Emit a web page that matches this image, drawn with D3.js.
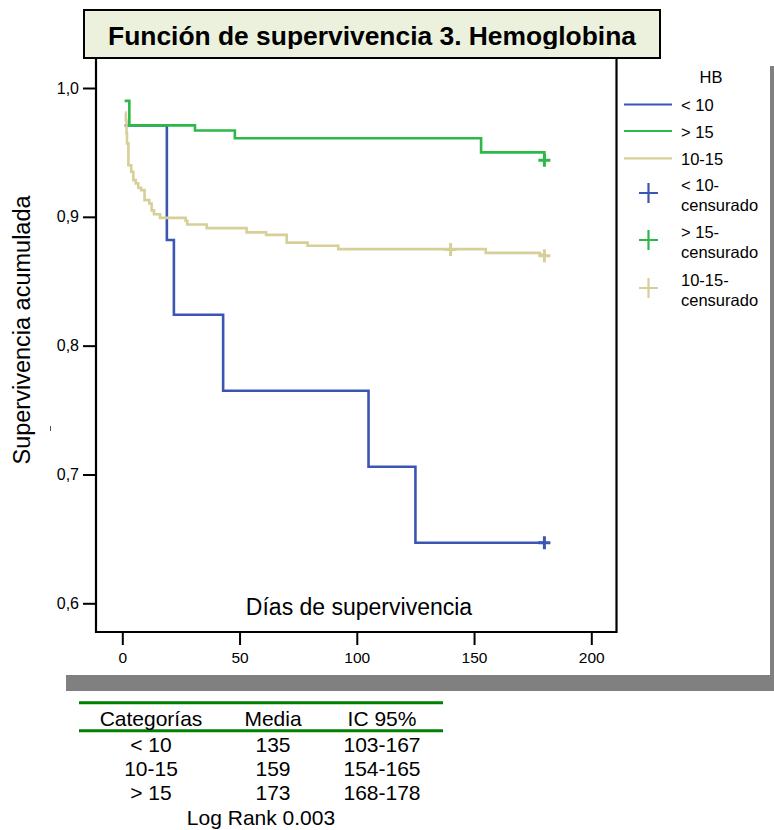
<!DOCTYPE html>
<html>
<head>
<meta charset="utf-8">
<script src="https://cdn.jsdelivr.net/npm/d3@7"></script>
<style>
  html, body { margin: 0; padding: 0; background: #fff; }
  svg { display: block; font-family: "Liberation Sans", Arial, sans-serif; }
</style>
</head>
<body>
<svg id="chart" width="774" height="830"></svg>
<script>
// Kaplan–Meier estimates by haemoglobin group (days, cumulative survival)
const groups = ["< 10", "> 15", "10-15"];
const groupColors = ["#3b55b3", "#2db84a", "#d6cf98"];

const timesLow = [1, 19, 22, 43, 105, 125, 180];
const survLow  = [0.971, 0.882, 0.824, 0.765, 0.706, 0.647, 0.647];

const timesHigh = [1, 3, 31, 48, 153, 180];
const survHigh  = [0.990, 0.971, 0.967, 0.961, 0.950, 0.944];

const timesMid = [1.3, 1.5, 1.8, 2, 2.6, 3.8, 4.7, 5.7, 6.8, 8.0, 9.5, 11.5, 12.5, 13.5, 16.1,
                  27.0, 27.7, 36, 53, 61.3, 70.1, 79, 92.1, 155, 178, 180];
const survMid  = [0.981, 0.975, 0.965, 0.957, 0.940, 0.935, 0.9285, 0.926, 0.9226, 0.9207, 0.913,
                  0.9104, 0.905, 0.902, 0.8992, 0.897, 0.894, 0.8912, 0.8879, 0.886, 0.880, 0.8775,
                  0.8749, 0.872, 0.8708, 0.870];

// censored observations
const censorLowT = [180],      censorLowS = [0.647];
const censorHighT = [180],     censorHighS = [0.944];
const censorMidT = [140, 180], censorMidS = [0.8747, 0.8697];

const xTicks = [0, 50, 100, 150, 200];
const yTicks = [0.6, 0.7, 0.8, 0.9, 1.0];

// summary table
const tableHeader = ["Categorías", "Media", "IC 95%"];
const tableCats   = ["< 10", "10-15", "> 15"];
const tableMeans  = ["135", "159", "173"];
const tableCI     = ["103-167", "154-165", "168-178"];
const logRank     = "Log Rank 0.003";

const svg = d3.select("#chart");

// drop shadow of the chart panel
svg.append("rect").attr("x", 770).attr("y", 66).attr("width", 4).attr("height", 625).attr("fill", "#808080");
svg.append("rect").attr("x", 66).attr("y", 675).attr("width", 708).attr("height", 16).attr("fill", "#808080");

const x = d3.scaleLinear().domain([0, 200]).range([122.3, 591.3]);
const y = d3.scaleLinear().domain([0.6, 1.0]).range([603.3, 88]);

// plot frame
const frame = { left: 96, right: 616.5, top: 58, bottom: 632 };
svg.append("path")
  .attr("d", `M${frame.left},${frame.top}V${frame.bottom}H${frame.right}V${frame.top}`)
  .attr("fill", "none").attr("stroke", "#000").attr("stroke-width", 2.2);

// y axis
const yAxis = d3.axisLeft(y).tickValues(yTicks).tickSize(13).tickPadding(4)
  .tickFormat(d => d3.format(".1f")(d).replace(".", ","));
const gy = svg.append("g").attr("transform", `translate(${frame.left},0)`).call(yAxis);
gy.select(".domain").remove();
gy.selectAll(".tick line").attr("stroke", "#000").attr("stroke-width", 2);
gy.selectAll(".tick text").attr("font-size", 16).attr("fill", "#000")
  .attr("font-family", "Liberation Sans, Arial, sans-serif");

// x axis
const xAxis = d3.axisBottom(x).tickValues(xTicks).tickSize(12).tickPadding(7).tickFormat(d3.format("d"));
const gx = svg.append("g").attr("transform", `translate(0,${frame.bottom + 1})`).call(xAxis);
gx.select(".domain").remove();
gx.selectAll(".tick line").attr("stroke", "#000").attr("stroke-width", 2);
gx.selectAll(".tick text").attr("font-size", 15.5).attr("fill", "#000")
  .attr("font-family", "Liberation Sans, Arial, sans-serif");

// axis titles
svg.append("text").attr("transform", "translate(30,330) rotate(-90)")
  .attr("text-anchor", "middle").attr("font-size", 23.5).text("Supervivencia acumulada");
svg.append("text").attr("x", 359).attr("y", 615)
  .attr("text-anchor", "middle").attr("font-size", 23).text("Días de supervivencia");
svg.append("line").attr("x1", 50.5).attr("x2", 50.5).attr("y1", 426).attr("y2", 431)
  .attr("stroke", "#555").attr("stroke-width", 1);

// survival curves
const series = [
  { t: timesLow,  s: survLow,  ct: censorLowT,  cs: censorLowS,  c: groupColors[0] },
  { t: timesMid,  s: survMid,  ct: censorMidT,  cs: censorMidS,  c: groupColors[2] },
  { t: timesHigh, s: survHigh, ct: censorHighT, cs: censorHighS, c: groupColors[1] }
];
const line = d3.line().x(d => x(d[0])).y(d => y(d[1])).curve(d3.curveStepAfter);
series.forEach(g => {
  const pts = g.t.map((t, i) => [t, g.s[i]]);
  svg.append("path").attr("d", line(pts)).attr("fill", "none")
    .attr("stroke", g.c).attr("stroke-width", 2.6);
  g.ct.forEach((t, i) => {
    const cx = x(t), cy = y(g.cs[i]);
    svg.append("path").attr("d", `M${cx - 6},${cy}H${cx + 6}M${cx},${cy - 6.5}V${cy + 6.5}`)
      .attr("stroke", g.c).attr("stroke-width", 3).attr("fill", "none");
  });
});

// title box
svg.append("clipPath").attr("id", "titleClip")
  .append("rect").attr("x", 84).attr("y", 10).attr("width", 576).attr("height", 39);
svg.append("rect").attr("x", 84).attr("y", 10).attr("width", 576).attr("height", 48)
  .attr("fill", "#ecf1de").attr("stroke", "#000").attr("stroke-width", 2);
svg.append("text").attr("x", 372).attr("y", 45).attr("text-anchor", "middle")
  .attr("clip-path", "url(#titleClip)")
  .attr("font-size", 26.4).attr("font-weight", "bold").text("Función de supervivencia 3. Hemoglobina");

// legend
const lg = svg.append("g").attr("font-size", 16.5);
lg.append("text").attr("x", 711).attr("y", 83).attr("text-anchor", "middle").text("HB");
const lineRows = [104.5, 131, 158.3];
const legendOrder = [0, 1, 2];
legendOrder.forEach((k, i) => {
  lg.append("line").attr("x1", 624).attr("x2", 672).attr("y1", lineRows[i]).attr("y2", lineRows[i])
    .attr("stroke", groupColors[k]).attr("stroke-width", 2.2);
  lg.append("text").attr("x", 681).attr("y", lineRows[i] + 6.5).text(groups[k]);
});
const markRows = [193, 240, 288];
legendOrder.forEach((k, i) => {
  const cy = markRows[i], cx = 648.5;
  lg.append("path").attr("d", `M${cx - 9.5},${cy}H${cx + 9.5}M${cx},${cy - 10}V${cy + 10}`)
    .attr("stroke", groupColors[k]).attr("stroke-width", 2.2).attr("fill", "none");
  lg.append("text").attr("x", 681).attr("y", cy - 2).text(groups[k] + "-");
  lg.append("text").attr("x", 681).attr("y", cy + 18).text("censurado");
});

// summary table
const colX = [151, 273, 382];
svg.append("line").attr("x1", 79).attr("x2", 443).attr("y1", 702.7).attr("y2", 702.7)
  .attr("stroke", "#008000").attr("stroke-width", 3);
svg.append("line").attr("x1", 79).attr("x2", 443).attr("y1", 730.7).attr("y2", 730.7)
  .attr("stroke", "#008000").attr("stroke-width", 3);
const tb = svg.append("g").attr("font-size", 21).attr("text-anchor", "middle");
tableHeader.forEach((h, i) => tb.append("text").attr("x", colX[i]).attr("y", 725.5).text(h));
const rowY = [751.5, 775.5, 799.5];
tableCats.forEach((c, r) => {
  tb.append("text").attr("x", colX[0]).attr("y", rowY[r]).text(c);
  tb.append("text").attr("x", colX[1]).attr("y", rowY[r]).text(tableMeans[r]);
  tb.append("text").attr("x", colX[2]).attr("y", rowY[r]).text(tableCI[r]);
});
tb.append("text").attr("x", 261).attr("y", 824.5).text(logRank);
</script>
</body>
</html>
